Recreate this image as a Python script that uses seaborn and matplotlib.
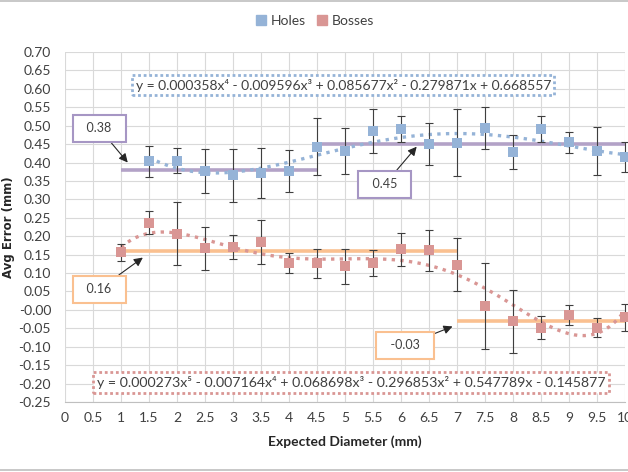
import numpy as np
import pandas as pd
import seaborn as sns
import matplotlib.pyplot as plt
from matplotlib.lines import Line2D

# --- data ---
holes_x = [1.5, 2, 2.5, 3, 3.5, 4, 4.5, 5, 5.5, 6, 6.5, 7, 7.5, 8, 8.5, 9, 9.5, 10]
holes_y = [0.404, 0.405, 0.377, 0.365, 0.372, 0.377, 0.443, 0.431, 0.486,
           0.491, 0.450, 0.454, 0.493, 0.428, 0.491, 0.455, 0.431, 0.415]
holes_err = [0.042, 0.034, 0.060, 0.071, 0.068, 0.057, 0.078, 0.063, 0.060,
             0.035, 0.057, 0.090, 0.057, 0.046, 0.035, 0.028, 0.065, 0.040]

bosses_x = [1, 1.5, 2, 2.5, 3, 3.5, 4, 4.5, 5, 5.5, 6, 6.5, 7, 7.5, 8, 8.5, 9, 9.5, 10]
bosses_y = [0.156, 0.237, 0.207, 0.167, 0.170, 0.184, 0.127, 0.126, 0.118, 0.127,
            0.164, 0.162, 0.123, 0.011, -0.031, -0.048, -0.015, -0.048, -0.020]
bosses_err = [0.023, 0.032, 0.085, 0.058, 0.032, 0.060, 0.028, 0.040, 0.047, 0.035,
              0.045, 0.056, 0.071, 0.116, 0.085, 0.032, 0.027, 0.025, 0.037]

# segment averages (start, end, value)
holes_avg_start = [1, 4.5]
holes_avg_end = [4.5, 10]
holes_avg_val = [0.38, 0.45]
bosses_avg_start = [1, 7]
bosses_avg_end = [7, 10]
bosses_avg_val = [0.16, -0.03]

holes_eq = "y = 0.000358x⁴ - 0.009596x³ + 0.085677x² - 0.279871x + 0.668557"
bosses_eq = "y = 0.000273x⁵ - 0.007164x⁴ + 0.068698x³ - 0.296853x² + 0.547789x - 0.145877"

c_holes = "#95b3d7"
c_bosses = "#d99694"
c_purple = "#b3a2c7"
c_orange = "#fac090"

sns.set_theme(style="whitegrid")
plt.rcParams['font.family'] = ['Lato', 'DejaVu Sans']

fig = plt.figure(figsize=(6.28, 4.72), dpi=100)
ax = fig.add_axes([65 / 628, 70 / 472, 560 / 628, 350 / 472])

# average lines
for s, e, v in zip(holes_avg_start, holes_avg_end, holes_avg_val):
    ax.plot([s, e], [v, v], color=c_purple, lw=2.6, zorder=2, solid_capstyle='butt')
for s, e, v in zip(bosses_avg_start, bosses_avg_end, bosses_avg_val):
    ax.plot([s, e], [v, v], color=c_orange, lw=2.6, zorder=2, solid_capstyle='butt')

holes = pd.DataFrame({"x": holes_x, "y": holes_y})
bosses = pd.DataFrame({"x": bosses_x, "y": bosses_y})

# polynomial trend lines
sns.regplot(data=holes, x="x", y="y", order=4, ci=None, scatter=False, ax=ax,
            line_kws=dict(color=c_holes, ls=(0, (1, 1.6)), lw=2.4, zorder=3))
sns.regplot(data=bosses, x="x", y="y", order=5, ci=None, scatter=False, ax=ax,
            line_kws=dict(color=c_bosses, ls=(0, (1, 1.6)), lw=2.4, zorder=3))

# error bars
ax.errorbar(holes_x, holes_y, yerr=holes_err, fmt='none', ecolor='#3f3f3f',
            elinewidth=0.8, capsize=3, capthick=0.8, zorder=4, clip_on=False)
ax.errorbar(bosses_x, bosses_y, yerr=bosses_err, fmt='none', ecolor='#3f3f3f',
            elinewidth=0.8, capsize=3, capthick=0.8, zorder=4, clip_on=False)

# markers
sns.scatterplot(data=holes, x="x", y="y", marker='s', s=55, color=c_holes,
                edgecolor=c_holes, linewidth=0, ax=ax, zorder=5, clip_on=False)
sns.scatterplot(data=bosses, x="x", y="y", marker='s', s=55, color=c_bosses,
                edgecolor=c_bosses, linewidth=0, ax=ax, zorder=5, clip_on=False)

# axes
ax.set_xlim(0, 10)
ax.set_ylim(-0.25, 0.70)
ax.set_xticks(np.arange(0, 10.01, 0.5))
ax.set_xticklabels([f"{v:g}" for v in np.arange(0, 10.01, 0.5)])
ax.set_yticks(np.arange(-0.25, 0.701, 0.05))
ax.set_yticklabels([f"{v:.2f}" for v in np.arange(-0.25, 0.701, 0.05)])
ax.grid(True, color='#d9d9d9', lw=0.8)
for sp in ['top', 'right', 'left']:
    ax.spines[sp].set_visible(False)
ax.spines['bottom'].set_color('#bfbfbf')
ax.spines['bottom'].set_linewidth(0.8)
ax.tick_params(axis='both', which='both', length=4, width=0.8, color='#bfbfbf',
               labelsize=10, labelcolor='#404040')
ax.tick_params(axis='y', pad=6)
ax.tick_params(axis='x', pad=3)
ax.set_xlabel("Expected Diameter (mm)", fontsize=10, fontweight='bold',
              color='#262626', labelpad=8)
ax.set_ylabel("Avg Error (mm)", fontsize=8.5, fontweight='bold', color='#262626',
              family=['DejaVu Sans'])
ax.yaxis.set_label_coords(-50 / 560, 0.5)

# equation boxes
ax.text(4.97, 0.61, holes_eq, ha='center', va='center', fontsize=10, color='#404040',
        bbox=dict(boxstyle='square,pad=0.25', fc='white', ec=c_holes, lw=2,
                  ls=(0, (1, 1))), zorder=6)
ax.text(5.11, -0.197, bosses_eq, ha='center', va='center', fontsize=10.2, color='#404040',
        bbox=dict(boxstyle='square,pad=0.25', fc='white', ec=c_bosses, lw=2,
                  ls=(0, (1, 1))), zorder=6)

# average labels with arrows
arrow = dict(arrowstyle='-|>', color='#262626', lw=0.8, mutation_scale=13, shrinkA=0, shrinkB=0)
labels = [
    (holes_avg_val[0], (1.12, 0.40), (0.61, 0.493), '#a696c4'),
    (holes_avg_val[1], (6.28, 0.443), (5.71, 0.341), '#a696c4'),
    (bosses_avg_val[0], (1.39, 0.142), (0.61, 0.056), c_orange),
    (bosses_avg_val[1], (6.92, -0.045), (6.07, -0.096), c_orange),
]
for val, tip, pos, ec in labels:
    ax.annotate(f"  {val:.2f}  ", xy=tip, xytext=pos, ha='center', va='center',
                fontsize=9, color='#404040', zorder=7, arrowprops=arrow,
                bbox=dict(boxstyle='square,pad=0.6', fc='white', ec=ec, lw=1.5))

# legend
handles = [Line2D([], [], marker='s', ls='none', color=c_holes, markersize=7),
           Line2D([], [], marker='s', ls='none', color=c_bosses, markersize=7)]
fig.legend(handles, ["Holes", "Bosses"], loc='center', bbox_to_anchor=(315 / 628, 1 - 21 / 472),
           ncol=2, frameon=False, fontsize=10, handlelength=0.8, handletextpad=0.3,
           columnspacing=0.8, labelcolor='#404040')

# chart area border (top and bottom visible in the crop)
fig.add_artist(Line2D([0, 1], [0.998, 0.998], color='#bfbfbf', lw=1.2, transform=fig.transFigure))
fig.add_artist(Line2D([0, 1], [0.004, 0.004], color='#bfbfbf', lw=1.2, transform=fig.transFigure))

fig.savefig("out.png", dpi=100)
